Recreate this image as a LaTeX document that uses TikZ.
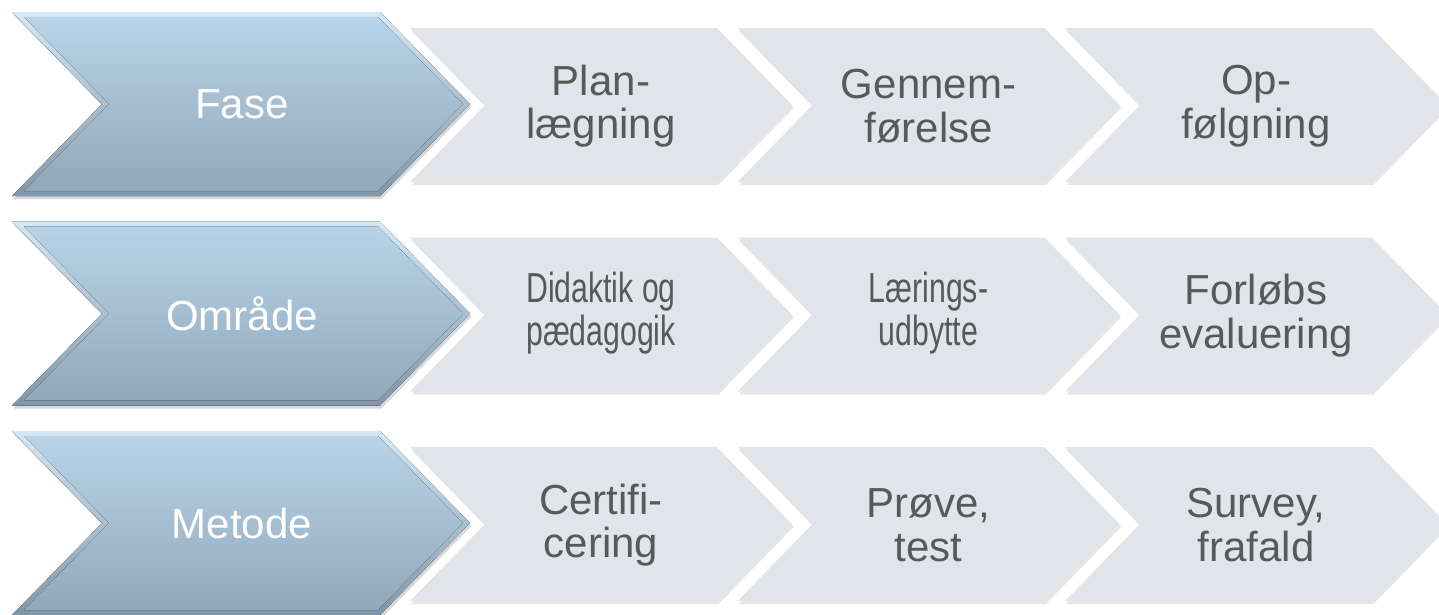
\documentclass[tikz,border=0pt]{standalone}
\usepackage{fontspec}
\setmainfont{Liberation Sans}
\usepackage{graphicx}
\usetikzlibrary{shadows}
\definecolor{bevellight}{HTML}{D4E8F5}
\definecolor{beveldark}{HTML}{8196A8}
\definecolor{facetop}{HTML}{B8D3E8}
\definecolor{facebot}{HTML}{91A8BA}
\definecolor{stepgray}{HTML}{E1E5EA}
\definecolor{textgray}{HTML}{595959}
\tikzset{
  headtxt/.style={align=center,text=white,font=\fontsize{42}{43.5}\selectfont},
  steptxt/.style={align=center,text=textgray,font=\fontsize{42}{43.5}\selectfont},
  stepfill/.style={fill=stepgray,drop shadow={shadow xshift=1.5pt,shadow yshift=-3pt,opacity=.2}},
  headfill/.style={top color=bevellight,bottom color=beveldark,drop shadow={shadow xshift=1.5pt,shadow yshift=-3pt,opacity=.3}},
  headface/.style={top color=facetop,bottom color=facebot},
}
\newcommand\squeeze[1]{\scalebox{0.72}[1]{\begin{tabular}{@{}c@{}}#1\end{tabular}}}
\begin{document}
\begin{tikzpicture}[x=1pt,y=-1pt,declare function={pitch=209.5;gap=327.5;}]
  \useasboundingbox (0,0) rectangle (1439,614);
  % grey steps, right to left
  \foreach \r in {0,1,2}
    \foreach \i in {2,1,0}{
      \pgfmathsetmacro\T{12+pitch*\r+16}
      \pgfmathsetmacro\L{410+gap*\i}
      \fill[stepfill] (\L,\T) -- (\L+307,\T) -- (\L+382,\T+77) -- (\L+307,\T+154)
                      -- (\L,\T+154) -- (\L+75,\T+77) -- cycle;
    }
  % blue heads
  \foreach \r in {0,1,2}{
    \pgfmathsetmacro\T{12+pitch*\r}
    \fill[headfill] (12,\T) -- (380,\T) -- (470,\T+92) -- (380,\T+184)
                    -- (12,\T+184) -- (102,\T+92) -- cycle;
    \fill[headface] (24,\T+5) -- (378,\T+5) -- (463,\T+92) -- (378,\T+179)
                    -- (24,\T+179) -- (109,\T+92) -- cycle;
  }
  \node[headtxt] (fase)   at (242,104)         {Fase};
  \node[headtxt] (omraade) at (242,104+pitch)  {Område};
  \node[headtxt] (metode) at (242,104+2*pitch) {Metode};
  \node[steptxt] (plan)   at (601,106)          {Plan-\\lægning};
  \node[steptxt] (gennem) at (601+gap,106)      {Gennem-\\førelse};
  \node[steptxt] (opf)    at (601+2*gap,106)    {Op-\\følgning};
  \node[steptxt] (didak)  at (601,106+pitch)       {\squeeze{Didaktik og\\pædagogik}};
  \node[steptxt] (laer)   at (601+gap,106+pitch)   {\squeeze{Lærings-\\udbytte}};
  \node[steptxt] (forl)   at (601+2*gap,106+pitch) {Forløbs\\evaluering};
  \node[steptxt] (cert)   at (601,106+2*pitch)       {Certifi-\\cering};
  \node[steptxt] (proeve) at (601+gap,106+2*pitch)   {Prøve,\\test};
  \node[steptxt] (survey) at (601+2*gap,106+2*pitch) {Survey,\\frafald};
\end{tikzpicture}
\end{document}
